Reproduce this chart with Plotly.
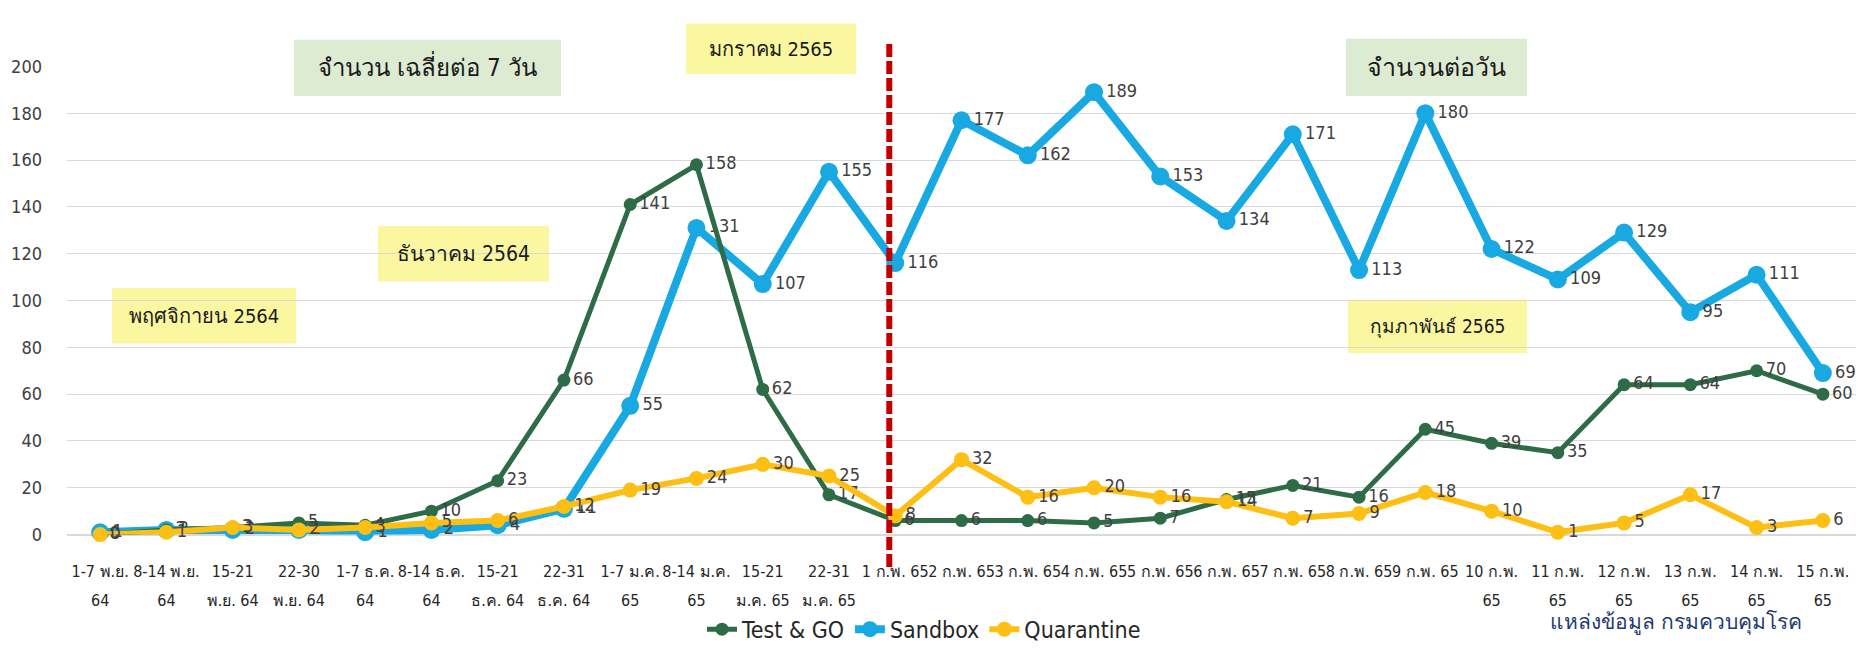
import plotly.graph_objects as go

categories = [
    "1-7 พ.ย.", "8-14 พ.ย.", "15-21", "22-30", "1-7 ธ.ค.", "8-14 ธ.ค.",
    "15-21", "22-31", "1-7 ม.ค.", "8-14 ม.ค.", "15-21", "22-31",
    "1 ก.พ. 65", "2 ก.พ. 65", "3 ก.พ. 65", "4 ก.พ. 65", "5 ก.พ. 65",
    "6 ก.พ. 65", "7 ก.พ. 65", "8 ก.พ. 65", "9 ก.พ. 65",
    "10 ก.พ.", "11 ก.พ.", "12 ก.พ.", "13 ก.พ.", "14 ก.พ.", "15 ก.พ.",
]
categories_line2 = [
    "64", "64", "พ.ย. 64", "พ.ย. 64", "64", "64", "ธ.ค. 64", "ธ.ค. 64",
    "65", "65", "ม.ค. 65", "ม.ค. 65",
    "", "", "", "", "", "", "", "", "",
    "65", "65", "65", "65", "65", "65",
]

test_go = [0, 2, 3, 5, 4, 10, 23, 66, 141, 158, 62, 17,
           6, 6, 6, 5, 7, 15, 21, 16, 45, 39, 35, 64, 64, 70, 60]
sandbox = [1, 2, 2, 2, 1, 2, 4, 11, 55, 131, 107, 155,
           116, 177, 162, 189, 153, 134, 171, 113, 180, 122, 109, 129, 95, 111, 69]
quarantine = [0, 1, 3, 2, 3, 5, 6, 12, 19, 24, 30, 25,
              8, 32, 16, 20, 16, 14, 7, 9, 18, 10, 1, 5, 17, 3, 6]

y_ticks = [0, 20, 40, 60, 80, 100, 120, 140, 160, 180, 200]

GREEN = "#2E6B47"
BLUE = "#18A9E2"
GOLD = "#FDBF14"
LABEL = "#404040"
FONT = "'Liberation Sans Narrow', 'DejaVu Sans Condensed', sans-serif"

W, H = 1864, 651
L, R, T, B = 67, 8, 58, 103   # plot-area insets in pixels

x = list(range(len(categories)))

fig = go.Figure()

fig.add_trace(go.Scatter(
    x=x, y=sandbox, name="Sandbox", mode="lines+markers+text", legendrank=2,
    line=dict(color=BLUE, width=8), marker=dict(color=BLUE, size=18),
    text=[str(v) for v in sandbox], textposition="middle right",
    textfont=dict(color=LABEL, size=18, family=FONT), cliponaxis=False,
))
fig.add_trace(go.Scatter(
    x=x, y=test_go, name="Test & GO", mode="lines+markers+text", legendrank=1,
    line=dict(color=GREEN, width=5), marker=dict(color=GREEN, size=13),
    text=[str(v) for v in test_go], textposition="middle right",
    textfont=dict(color=LABEL, size=18, family=FONT), cliponaxis=False,
))
fig.add_trace(go.Scatter(
    x=x, y=quarantine, name="Quarantine", mode="lines+markers+text", legendrank=3,
    line=dict(color=GOLD, width=6), marker=dict(color=GOLD, size=15),
    text=[str(v) for v in quarantine], textposition="middle right",
    textfont=dict(color=LABEL, size=18, family=FONT), cliponaxis=False,
))

# second line of category labels (x from category axis, y in page pixels)
fig.add_trace(go.Scatter(
    x=x, y=[619] * len(x), xaxis="x", yaxis="y3", mode="text",
    text=categories_line2, textposition="middle center", showlegend=False,
    hoverinfo="skip", cliponaxis=False,
    textfont=dict(size=16, color="#262626", family=FONT),
))

# boxed section labels: box x0, x1, y0, y1 in page pixels
box_text = ["จำนวน เฉลี่ยต่อ 7 วัน", "จำนวนต่อวัน", "มกราคม 2565",
            "ธันวาคม 2564", "พฤศจิกายน 2564", "กุมภาพันธ์ 2565"]
box_geom = [(294, 561, 30, 89), (1346, 1527, 29, 89), (686, 856, 13, 66),
            (378, 549, 225, 283), (112, 296, 290, 348), (1348, 1527, 302, 358)]
box_fill = ["#DDEBD3", "#DDEBD3", "#FBF7A0", "#FBF7A0", "#FBF7A0", "#FBF7A0"]
box_size = [24, 25, 20, 21, 20, 19]

for (x0, x1, y0, y1), col in zip(box_geom, box_fill):
    fig.add_shape(type="rect", xref="paper", yref="paper",
                  x0=x0 / W, x1=x1 / W, y0=1 - y1 / H, y1=1 - y0 / H,
                  fillcolor=col, line=dict(width=0), layer="below")
fig.add_trace(go.Scatter(
    x=[(g[0] + g[1]) / 2 for g in box_geom],
    y=[(g[2] + g[3]) / 2 + 2 for g in box_geom],
    xaxis="x3", yaxis="y3", mode="text", text=box_text,
    textposition="middle center", showlegend=False, hoverinfo="skip",
    cliponaxis=False,
    textfont=dict(size=box_size, color="#1a1a1a", family=FONT)))

# source note
fig.add_trace(go.Scatter(
    x=[1676], y=[641], xaxis="x3", yaxis="y3", mode="text",
    text=["แหล่งข้อมูล กรมควบคุมโรค"], textposition="middle center",
    showlegend=False, hoverinfo="skip", cliponaxis=False,
    textfont=dict(size=21, color="#1F3A73", family=FONT)))

# red dashed divider
fig.add_shape(type="line", xref="x", yref="paper", x0=11.91, x1=11.91,
              y0=1 - 582 / H, y1=1 - 31 / H,
              line=dict(color="#C00000", width=6, dash="13px,4px"))

fig.update_layout(
    width=W, height=H,
    margin=dict(l=0, r=0, t=0, b=0),
    paper_bgcolor="white", plot_bgcolor="rgba(0,0,0,0)",
    font=dict(family=FONT, color=LABEL),
    showlegend=True,
    legend=dict(orientation="h", x=924 / W, xanchor="center",
                y=1 - 647 / H, yanchor="middle",
                font=dict(size=23, color="#262626", family=FONT),
                traceorder="normal", bgcolor="rgba(0,0,0,0)"),
    xaxis=dict(domain=[L / W, 1 - R / W], range=[-0.5, 26.5],
               tickmode="array", tickvals=x, ticktext=categories,
               tickangle=0, showgrid=False, zeroline=False, showline=False,
               ticks="", ticklabelstandoff=25,
               tickfont=dict(size=16, color="#262626", family=FONT)),
    yaxis=dict(domain=[B / H, 1 - T / H], range=[0, 200], tickvals=y_ticks,
               showgrid=True, gridcolor="#D9D9D9", gridwidth=1,
               zeroline=True, zerolinecolor="#D9D9D9", showline=False,
               ticks="", ticklabelstandoff=24,
               tickfont=dict(size=18, color="#404040", family=FONT)),
    xaxis3=dict(domain=[0, 1], range=[0, W], visible=False, anchor="y3"),
    yaxis3=dict(domain=[0, 1], range=[H, 0], visible=False, anchor="x3"),
)

fig.write_html(
    "out.html",
    config={"displayModeBar": False},
    post_script="document.body.style.margin='0';"
                "document.body.style.overflow='hidden';",
)
